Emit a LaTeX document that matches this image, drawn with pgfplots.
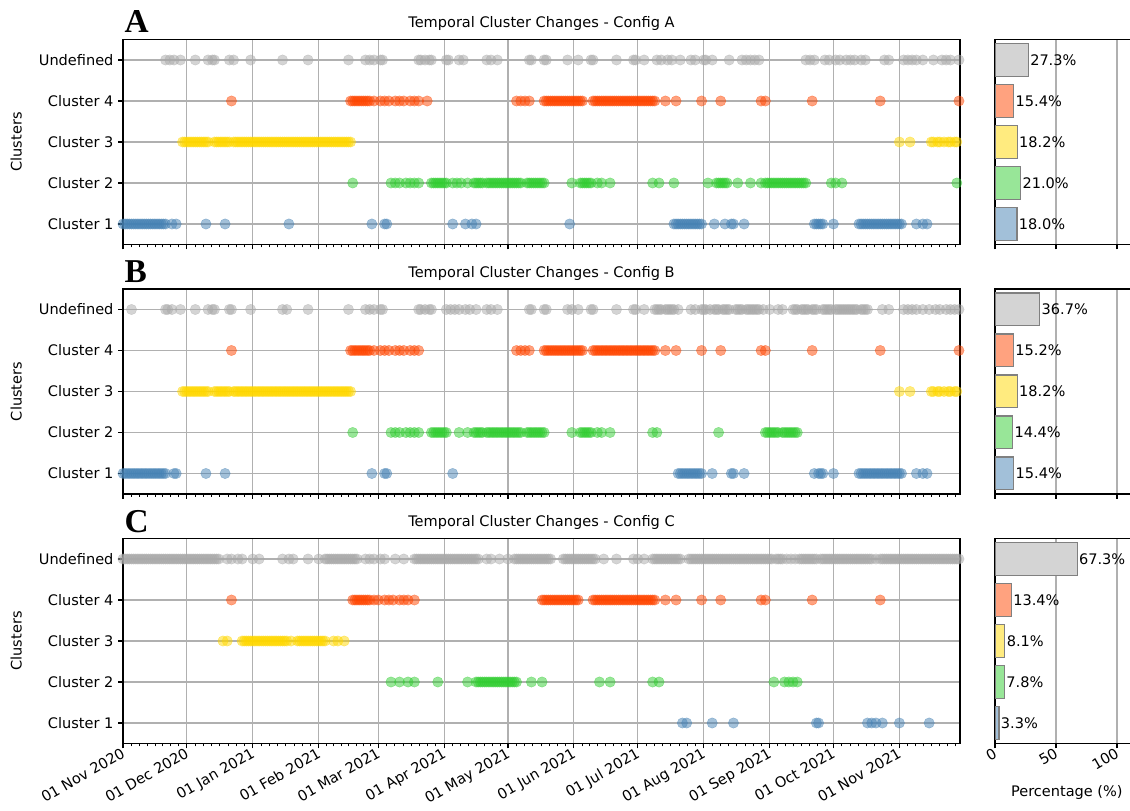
\documentclass[border=0pt]{standalone}
\usepackage{fontspec}
\setmainfont{DejaVu Sans}
\newfontfamily\letterfont{Liberation Serif}
\usepackage{pgfplots}
\pgfplotsset{compat=1.18}
\newcommand\fs{\fontsize{10.9}{13}\selectfont}
\definecolor{cU}{HTML}{A9A9A9}
\definecolor{c4}{HTML}{FF4500}
\definecolor{c3}{HTML}{FFD700}
\definecolor{c2}{HTML}{32CD32}
\definecolor{c1}{HTML}{4682B4}
\definecolor{bU}{HTML}{D4D4D4}
\definecolor{b4}{HTML}{FFA27F}
\definecolor{b3}{HTML}{FFEB7F}
\definecolor{b2}{HTML}{98E698}
\definecolor{b1}{HTML}{A2C0D9}
\definecolor{gridc}{HTML}{B0B0B0}
\definecolor{edgec}{HTML}{808080}
\pgfplotsset{
  mk/.style={only marks, mark=*, mark size=3.9pt, mark options={fill=#1, draw=#1, fill opacity=0.5, draw opacity=0.5, line width=0.3pt}},
  scat/.style={
    scale only axis, width=627.75pt, height=153.75pt, anchor=north west,
    xmin=0, xmax=393.5, ymin=-0.5, ymax=4.5,
    xtick={0,30,61,92,120,151,181,212,242,273,304,334,365},
    minor xtick={3.75,7.5,11.25,15,18.75,22.5,26.25,33.9,37.75,41.6,45.5,49.4,53.25,57.1,64.9,68.75,72.6,76.5,80.4,84.25,88.1,95.5,99,102.5,106,109.5,113,116.5,123.9,127.75,131.6,135.5,139.4,143.25,147.1,154.75,158.5,162.25,166,169.75,173.5,177.25,184.9,188.75,192.6,196.5,200.4,204.25,208.1,215.75,219.5,223.25,227,230.75,234.5,238.25,245.9,249.75,253.6,257.5,261.4,265.25,269.1,276.9,280.75,284.6,288.5,292.4,296.25,300.1,307.75,311.5,315.25,319,322.75,326.5,330.25,337.9,341.75,345.6,349.5,353.4,357.25,361.1,368.75,372.5,376.25,380,383.75,387.5,391.25},
    ytick={0,1,2,3,4},
    yticklabels={Cluster 1,Cluster 2,Cluster 3,Cluster 4,Undefined},
    xmajorgrids, ymajorgrids, xminorgrids=false,
    grid style={draw=gridc, line width=0.83pt},
    axis line style={line width=0.83pt},
    tick align=outside, tick pos=left,
    major tick length=3.65pt, minor tick length=2.1pt,
    major tick style={line width=0.83pt, black},
    minor tick style={line width=0.6pt, black},
    ylabel={Clusters},
    ylabel style={font=\fs},
    ylabel shift=6pt,
    tick label style={font=\fs},
    title style={font=\fs, at={(0.5,1)}, anchor=base, yshift=2.7pt},
    xticklabels={},
  },
  bars/.style={
    scale only axis, width=109.8pt, height=153.75pt, anchor=north west,
    xmin=0, xmax=120, ymin=-0.5, ymax=4.5,
    xtick={0,50,100}, ytick=\empty, xticklabels={},
    xmajorgrids, grid style={draw=gridc, line width=0.83pt},
    axis line style={line width=0.83pt},
    tick align=outside, tick pos=left,
    major tick length=3.65pt, major tick style={line width=0.83pt, black},
    tick label style={font=\fs},
    point meta=x,
    nodes near coords={\pgfmathprintnumber[fixed,fixed zerofill,precision=1,assume math mode=true]{\pgfplotspointmeta}\%},
    nodes near coords style={anchor=west, font=\fs, inner sep=1pt, text=black},
    /pgf/number format/assume math mode=true,
  },
  hb/.style={xbar, bar shift=0pt, bar width=0.8, fill=#1, draw=edgec, line width=0.9pt},
}
\begin{document}
\begin{tikzpicture}
\useasboundingbox (0,0) rectangle (847.5pt,607.5pt);
% ================= Panel A =================
\begin{axis}[scat, name=pA, at={(92.25pt,577.875pt)}, title={Temporal Cluster Changes - Config A}]
\addplot[mk=cU] coordinates {(20,4)(22,4)(24,4)(27,4)(34,4)(40,4)(42,4)(43,4)(50,4)(52,4)(60,4)(75,4)(87,4)(106,4)(114,4)(116,4)(118,4)(121,4)(122,4)(139,4)(140,4)(142,4)(144,4)(145,4)(152,4)(153,4)(158,4)(160,4)(171,4)(173,4)(176,4)(191,4)(192,4)(198,4)(199,4)(209,4)(214,4)(220,4)(221,4)(232,4)(240,4)(241,4)(245,4)(251,4)(253,4)(256,4)(258,4)(262,4)(267,4)(269,4)(273,4)(274,4)(277,4)(285,4)(291,4)(293,4)(295,4)(297,4)(299,4)(321,4)(323,4)(325,4)(330,4)(332,4)(335,4)(337,4)(340,4)(342,4)(344,4)(347,4)(349,4)(358,4)(360,4)(367,4)(369,4)(371,4)(373,4)(376,4)(381,4)(385,4)(387,4)(389,4)(393,4)};
\addplot[mk=c4] coordinates {(51,3)(107,3)(108,3)(109,3)(110,3)(111,3)(112,3)(113,3)(114,3)(115,3)(116,3)(118,3)(121,3)(123,3)(125,3)(128,3)(130,3)(132,3)(135,3)(137,3)(139,3)(143,3)(185,3)(187,3)(189,3)(191,3)(198,3)(199,3)(200,3)(201,3)(202,3)(203,3)(204,3)(205,3)(206,3)(207,3)(208,3)(209,3)(210,3)(211,3)(212,3)(213,3)(214,3)(215,3)(216,3)(221,3)(222,3)(223,3)(224,3)(225,3)(226,3)(227,3)(228,3)(229,3)(230,3)(231,3)(232,3)(233,3)(234,3)(235,3)(236,3)(237,3)(238,3)(239,3)(240,3)(241,3)(242,3)(243,3)(244,3)(245,3)(246,3)(247,3)(248,3)(249,3)(250,3)(255,3)(260,3)(272,3)(281,3)(300,3)(302,3)(324,3)(356,3)(393,3)};
\addplot[mk=c3] coordinates {(28,2)(29,2)(30,2)(31,2)(32,2)(33,2)(34,2)(35,2)(36,2)(37,2)(38,2)(39,2)(40,2)(43,2)(44,2)(45,2)(46,2)(47,2)(48,2)(49,2)(50,2)(52,2)(53,2)(54,2)(55,2)(56,2)(57,2)(58,2)(59,2)(60,2)(61,2)(62,2)(63,2)(64,2)(65,2)(66,2)(67,2)(68,2)(69,2)(70,2)(71,2)(72,2)(73,2)(74,2)(75,2)(76,2)(77,2)(78,2)(79,2)(80,2)(81,2)(82,2)(83,2)(84,2)(85,2)(86,2)(87,2)(88,2)(89,2)(90,2)(91,2)(92,2)(93,2)(94,2)(95,2)(96,2)(97,2)(98,2)(99,2)(100,2)(101,2)(102,2)(103,2)(104,2)(105,2)(106,2)(107,2)(365,2)(370,2)(380,2)(381,2)(383,2)(384,2)(386,2)(388,2)(389,2)(391,2)(392,2)};
\addplot[mk=c2] coordinates {(108,1)(126,1)(128,1)(130,1)(133,1)(135,1)(137,1)(139,1)(145,1)(146,1)(147,1)(148,1)(149,1)(150,1)(151,1)(152,1)(155,1)(157,1)(159,1)(162,1)(165,1)(166,1)(167,1)(168,1)(169,1)(171,1)(172,1)(173,1)(174,1)(175,1)(176,1)(177,1)(178,1)(179,1)(180,1)(181,1)(182,1)(183,1)(184,1)(185,1)(186,1)(187,1)(190,1)(191,1)(192,1)(193,1)(194,1)(195,1)(196,1)(197,1)(198,1)(211,1)(215,1)(216,1)(217,1)(218,1)(219,1)(220,1)(223,1)(225,1)(229,1)(249,1)(252,1)(259,1)(275,1)(279,1)(280,1)(281,1)(282,1)(283,1)(284,1)(289,1)(295,1)(300,1)(302,1)(303,1)(304,1)(305,1)(306,1)(307,1)(308,1)(309,1)(310,1)(311,1)(312,1)(313,1)(314,1)(315,1)(316,1)(317,1)(318,1)(319,1)(320,1)(321,1)(333,1)(335,1)(338,1)(392,1)};
\addplot[mk=c1] coordinates {(0,0)(1,0)(2,0)(3,0)(4,0)(5,0)(6,0)(7,0)(8,0)(9,0)(10,0)(11,0)(12,0)(13,0)(14,0)(15,0)(16,0)(17,0)(18,0)(19,0)(20,0)(23,0)(25,0)(39,0)(48,0)(78,0)(117,0)(123,0)(124,0)(155,0)(161,0)(164,0)(166,0)(210,0)(259,0)(260,0)(261,0)(262,0)(263,0)(264,0)(265,0)(266,0)(267,0)(268,0)(269,0)(270,0)(271,0)(272,0)(278,0)(283,0)(286,0)(287,0)(292,0)(325,0)(326,0)(327,0)(328,0)(329,0)(334,0)(346,0)(347,0)(348,0)(349,0)(350,0)(351,0)(352,0)(353,0)(354,0)(355,0)(356,0)(357,0)(358,0)(359,0)(360,0)(361,0)(362,0)(363,0)(364,0)(365,0)(366,0)(373,0)(376,0)(378,0)};
\end{axis}
\begin{axis}[bars, at={(746.25pt,577.875pt)}]
\addplot[hb=bU] coordinates {(27.3,4)};
\addplot[hb=b4] coordinates {(15.4,3)};
\addplot[hb=b3] coordinates {(18.2,2)};
\addplot[hb=b2] coordinates {(21.0,1)};
\addplot[hb=b1] coordinates {(18.0,0)};
\end{axis}
% ================= Panel B =================
\begin{axis}[scat, name=pB, at={(92.25pt,390.75pt)}, title={Temporal Cluster Changes - Config B}]
\addplot[mk=cU] coordinates {(4,4)(20,4)(21,4)(23,4)(27,4)(34,4)(40,4)(42,4)(43,4)(50,4)(51,4)(60,4)(75,4)(77,4)(87,4)(106,4)(114,4)(116,4)(118,4)(121,4)(122,4)(139,4)(140,4)(142,4)(144,4)(145,4)(152,4)(154,4)(156,4)(158,4)(161,4)(163,4)(166,4)(171,4)(173,4)(176,4)(191,4)(192,4)(198,4)(199,4)(209,4)(211,4)(214,4)(220,4)(221,4)(232,4)(240,4)(241,4)(245,4)(250,4)(251,4)(252,4)(253,4)(255,4)(256,4)(257,4)(258,4)(259,4)(261,4)(267,4)(269,4)(272,4)(273,4)(274,4)(276,4)(278,4)(279,4)(280,4)(282,4)(283,4)(284,4)(285,4)(288,4)(289,4)(290,4)(291,4)(293,4)(294,4)(295,4)(296,4)(297,4)(298,4)(299,4)(301,4)(304,4)(308,4)(310,4)(315,4)(316,4)(317,4)(319,4)(320,4)(321,4)(322,4)(324,4)(325,4)(326,4)(329,4)(330,4)(331,4)(332,4)(333,4)(335,4)(336,4)(337,4)(338,4)(339,4)(340,4)(341,4)(342,4)(343,4)(344,4)(345,4)(347,4)(348,4)(349,4)(350,4)(357,4)(360,4)(367,4)(369,4)(371,4)(373,4)(376,4)(379,4)(382,4)(384,4)(387,4)(389,4)(391,4)(393,4)};
\addplot[mk=c4] coordinates {(51,3)(107,3)(108,3)(109,3)(110,3)(111,3)(112,3)(113,3)(114,3)(115,3)(116,3)(118,3)(121,3)(123,3)(125,3)(128,3)(130,3)(132,3)(135,3)(137,3)(139,3)(185,3)(187,3)(189,3)(191,3)(198,3)(199,3)(200,3)(201,3)(202,3)(203,3)(204,3)(205,3)(206,3)(207,3)(208,3)(209,3)(210,3)(211,3)(212,3)(213,3)(214,3)(215,3)(216,3)(221,3)(222,3)(223,3)(224,3)(225,3)(226,3)(227,3)(228,3)(229,3)(230,3)(231,3)(232,3)(233,3)(234,3)(235,3)(236,3)(237,3)(238,3)(239,3)(240,3)(241,3)(242,3)(243,3)(244,3)(245,3)(246,3)(247,3)(248,3)(249,3)(250,3)(255,3)(260,3)(272,3)(281,3)(300,3)(302,3)(324,3)(356,3)(393,3)};
\addplot[mk=c3] coordinates {(28,2)(29,2)(30,2)(31,2)(32,2)(33,2)(34,2)(35,2)(36,2)(37,2)(38,2)(39,2)(40,2)(43,2)(44,2)(45,2)(46,2)(47,2)(48,2)(49,2)(50,2)(52,2)(53,2)(54,2)(55,2)(56,2)(57,2)(58,2)(59,2)(60,2)(61,2)(62,2)(63,2)(64,2)(65,2)(66,2)(67,2)(68,2)(69,2)(70,2)(71,2)(72,2)(73,2)(74,2)(75,2)(76,2)(77,2)(78,2)(79,2)(80,2)(81,2)(82,2)(83,2)(84,2)(85,2)(86,2)(87,2)(88,2)(89,2)(90,2)(91,2)(92,2)(93,2)(94,2)(95,2)(96,2)(97,2)(98,2)(99,2)(100,2)(101,2)(102,2)(103,2)(104,2)(105,2)(106,2)(107,2)(365,2)(370,2)(380,2)(381,2)(383,2)(384,2)(386,2)(388,2)(389,2)(391,2)(392,2)};
\addplot[mk=c2] coordinates {(108,1)(126,1)(128,1)(130,1)(133,1)(135,1)(137,1)(139,1)(145,1)(146,1)(147,1)(148,1)(149,1)(150,1)(151,1)(152,1)(158,1)(162,1)(165,1)(166,1)(167,1)(168,1)(169,1)(171,1)(172,1)(173,1)(174,1)(175,1)(176,1)(177,1)(178,1)(179,1)(180,1)(181,1)(182,1)(183,1)(184,1)(185,1)(186,1)(187,1)(190,1)(191,1)(192,1)(193,1)(194,1)(195,1)(196,1)(197,1)(198,1)(211,1)(215,1)(216,1)(217,1)(218,1)(219,1)(220,1)(223,1)(225,1)(229,1)(249,1)(251,1)(280,1)(302,1)(303,1)(304,1)(305,1)(306,1)(307,1)(308,1)(310,1)(311,1)(312,1)(313,1)(314,1)(315,1)(316,1)(317,1)};
\addplot[mk=c1] coordinates {(0,0)(1,0)(2,0)(3,0)(4,0)(5,0)(6,0)(7,0)(8,0)(9,0)(10,0)(11,0)(12,0)(13,0)(14,0)(15,0)(16,0)(17,0)(18,0)(19,0)(20,0)(24,0)(25,0)(39,0)(48,0)(117,0)(123,0)(124,0)(155,0)(261,0)(262,0)(263,0)(264,0)(265,0)(266,0)(267,0)(268,0)(269,0)(270,0)(271,0)(272,0)(277,0)(286,0)(287,0)(292,0)(325,0)(327,0)(328,0)(329,0)(334,0)(346,0)(347,0)(348,0)(349,0)(350,0)(351,0)(352,0)(353,0)(354,0)(355,0)(356,0)(357,0)(358,0)(359,0)(360,0)(361,0)(362,0)(363,0)(364,0)(365,0)(366,0)(373,0)(376,0)(378,0)};
\end{axis}
\begin{axis}[bars, at={(746.25pt,390.75pt)}]
\addplot[hb=bU] coordinates {(36.7,4)};
\addplot[hb=b4] coordinates {(15.2,3)};
\addplot[hb=b3] coordinates {(18.2,2)};
\addplot[hb=b2] coordinates {(14.4,1)};
\addplot[hb=b1] coordinates {(15.4,0)};
\end{axis}
% ================= Panel C =================
\begin{axis}[scat, name=pC, at={(92.25pt,203.625pt)}, title={Temporal Cluster Changes - Config C},
  xticklabels={01 Nov 2020,01 Dec 2020,01 Jan 2021,01 Feb 2021,01 Mar 2021,01 Apr 2021,01 May 2021,01 Jun 2021,01 Jul 2021,01 Aug 2021,01 Sep 2021,01 Oct 2021,01 Nov 2021},
  xticklabel style={rotate=30, anchor=north east, inner sep=1pt, yshift=3pt}]
\addplot[mk=cU] coordinates {(0,4)(1,4)(2,4)(3,4)(4,4)(5,4)(6,4)(7,4)(8,4)(9,4)(10,4)(11,4)(12,4)(13,4)(14,4)(15,4)(16,4)(17,4)(18,4)(19,4)(20,4)(21,4)(22,4)(23,4)(24,4)(25,4)(26,4)(27,4)(28,4)(29,4)(30,4)(31,4)(32,4)(33,4)(34,4)(35,4)(36,4)(37,4)(38,4)(39,4)(40,4)(41,4)(42,4)(43,4)(44,4)(45,4)(49,4)(51,4)(54,4)(56,4)(61,4)(64,4)(75,4)(78,4)(80,4)(87,4)(92,4)(95,4)(96,4)(97,4)(98,4)(99,4)(100,4)(101,4)(102,4)(103,4)(104,4)(105,4)(106,4)(107,4)(108,4)(109,4)(110,4)(114,4)(116,4)(118,4)(121,4)(123,4)(128,4)(132,4)(137,4)(138,4)(139,4)(140,4)(141,4)(142,4)(143,4)(144,4)(145,4)(146,4)(147,4)(148,4)(149,4)(150,4)(151,4)(152,4)(153,4)(154,4)(155,4)(156,4)(157,4)(158,4)(159,4)(160,4)(161,4)(162,4)(163,4)(164,4)(165,4)(166,4)(167,4)(171,4)(173,4)(177,4)(181,4)(184,4)(185,4)(186,4)(187,4)(188,4)(189,4)(190,4)(191,4)(192,4)(193,4)(194,4)(195,4)(196,4)(197,4)(198,4)(199,4)(200,4)(201,4)(207,4)(208,4)(209,4)(210,4)(211,4)(212,4)(213,4)(214,4)(215,4)(216,4)(217,4)(218,4)(219,4)(220,4)(221,4)(222,4)(226,4)(232,4)(240,4)(242,4)(245,4)(249,4)(250,4)(251,4)(252,4)(253,4)(254,4)(255,4)(256,4)(257,4)(258,4)(259,4)(260,4)(261,4)(262,4)(266,4)(267,4)(268,4)(269,4)(270,4)(271,4)(272,4)(273,4)(274,4)(275,4)(276,4)(277,4)(278,4)(279,4)(280,4)(281,4)(282,4)(283,4)(284,4)(285,4)(286,4)(287,4)(288,4)(289,4)(290,4)(291,4)(292,4)(293,4)(294,4)(295,4)(296,4)(297,4)(298,4)(299,4)(300,4)(301,4)(302,4)(303,4)(304,4)(305,4)(307,4)(308,4)(309,4)(310,4)(312,4)(314,4)(316,4)(318,4)(319,4)(320,4)(321,4)(322,4)(323,4)(324,4)(325,4)(326,4)(328,4)(329,4)(330,4)(331,4)(332,4)(333,4)(334,4)(335,4)(336,4)(337,4)(338,4)(339,4)(340,4)(341,4)(342,4)(343,4)(344,4)(345,4)(346,4)(347,4)(348,4)(349,4)(350,4)(351,4)(352,4)(354,4)(356,4)(357,4)(358,4)(359,4)(360,4)(361,4)(362,4)(363,4)(364,4)(365,4)(366,4)(367,4)(368,4)(369,4)(370,4)(371,4)(372,4)(373,4)(374,4)(375,4)(376,4)(377,4)(378,4)(379,4)(380,4)(381,4)(382,4)(383,4)(384,4)(385,4)(386,4)(387,4)(388,4)(389,4)(390,4)(391,4)(392,4)(393,4)};
\addplot[mk=c4] coordinates {(51,3)(108,3)(109,3)(110,3)(111,3)(112,3)(113,3)(114,3)(115,3)(116,3)(118,3)(120,3)(123,3)(125,3)(127,3)(130,3)(132,3)(134,3)(137,3)(197,3)(198,3)(199,3)(200,3)(201,3)(202,3)(203,3)(204,3)(205,3)(206,3)(207,3)(208,3)(209,3)(210,3)(211,3)(212,3)(213,3)(214,3)(221,3)(222,3)(223,3)(224,3)(225,3)(226,3)(227,3)(228,3)(229,3)(230,3)(231,3)(232,3)(233,3)(234,3)(235,3)(236,3)(237,3)(238,3)(239,3)(240,3)(241,3)(242,3)(243,3)(244,3)(245,3)(246,3)(247,3)(248,3)(249,3)(250,3)(255,3)(260,3)(272,3)(281,3)(300,3)(302,3)(324,3)(356,3)};
\addplot[mk=c3] coordinates {(47,2)(49,2)(56,2)(57,2)(58,2)(59,2)(60,2)(61,2)(62,2)(63,2)(64,2)(65,2)(66,2)(67,2)(68,2)(69,2)(70,2)(71,2)(72,2)(73,2)(74,2)(75,2)(76,2)(77,2)(79,2)(82,2)(83,2)(84,2)(85,2)(86,2)(87,2)(88,2)(89,2)(90,2)(91,2)(92,2)(93,2)(94,2)(95,2)(99,2)(101,2)(104,2)};
\addplot[mk=c2] coordinates {(126,1)(130,1)(134,1)(137,1)(148,1)(162,1)(166,1)(167,1)(168,1)(169,1)(170,1)(171,1)(172,1)(173,1)(174,1)(175,1)(176,1)(177,1)(178,1)(179,1)(180,1)(181,1)(182,1)(183,1)(184,1)(185,1)(192,1)(197,1)(224,1)(229,1)(249,1)(252,1)(306,1)(311,1)(313,1)(315,1)(317,1)};
\addplot[mk=c1] coordinates {(263,0)(265,0)(277,0)(287,0)(326,0)(327,0)(350,0)(352,0)(354,0)(357,0)(365,0)(379,0)};
\end{axis}
\begin{axis}[bars, at={(746.25pt,203.625pt)}, xticklabels={0,50,100},
  xticklabel style={rotate=30, anchor=north east, inner sep=1pt, yshift=3pt},
  xlabel={Percentage (\%)}, xlabel style={font=\fs, yshift=-6pt, xshift=-1pt}]
\addplot[hb=bU] coordinates {(67.3,4)};
\addplot[hb=b4] coordinates {(13.4,3)};
\addplot[hb=b3] coordinates {(8.1,2)};
\addplot[hb=b2] coordinates {(7.8,1)};
\addplot[hb=b1] coordinates {(3.3,0)};
\end{axis}
% panel letters
\node[anchor=base west, inner sep=0pt, font=\letterfont\bfseries\fontsize{25}{30}\selectfont] at ([xshift=1pt,yshift=5.5pt]pA.north west) {A};
\node[anchor=base west, inner sep=0pt, font=\letterfont\bfseries\fontsize{25}{30}\selectfont] at ([xshift=1pt,yshift=4.5pt]pB.north west) {B};
\node[anchor=base west, inner sep=0pt, font=\letterfont\bfseries\fontsize{25}{30}\selectfont] at ([xshift=1pt,yshift=4.5pt]pC.north west) {C};
\end{tikzpicture}
\end{document}
